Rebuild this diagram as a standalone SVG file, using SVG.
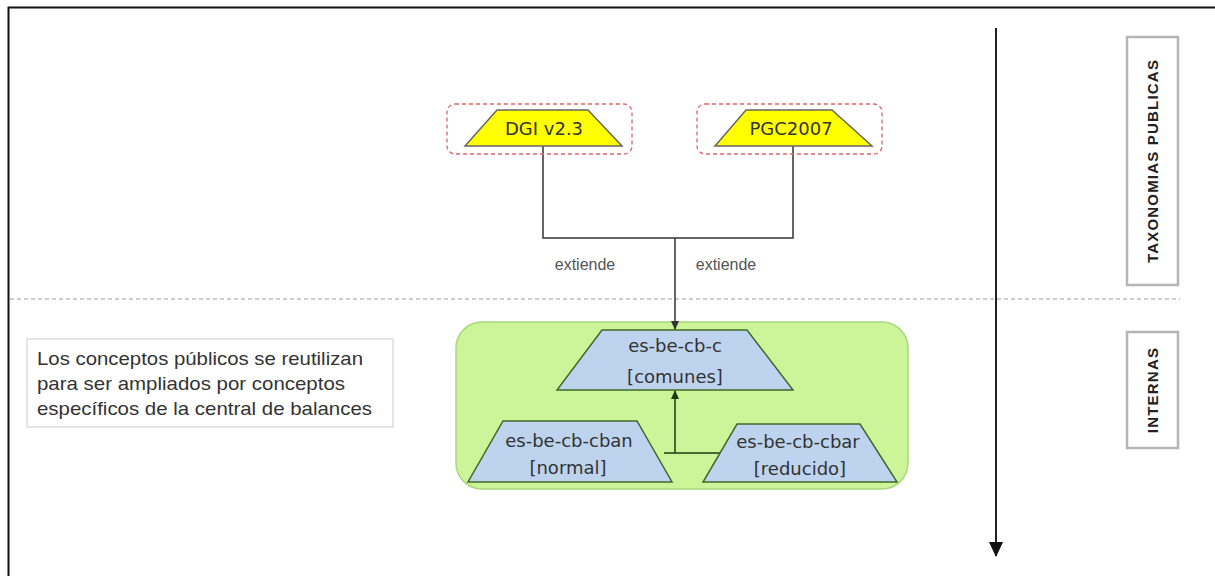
<svg xmlns="http://www.w3.org/2000/svg" width="1215" height="576" viewBox="0 0 1215 576">
<style>
.t{font-family:"DejaVu Sans",Verdana,sans-serif;font-size:18px;fill:#333;text-anchor:middle}
.ext{font-family:"Liberation Sans",Arial,sans-serif;font-size:16px;fill:#555;text-anchor:middle}
.note{font-family:"Liberation Sans",Arial,sans-serif;font-size:19px;fill:#333}
.lbl{font-family:"Liberation Sans",Arial,sans-serif;font-size:15px;font-weight:bold;fill:#222;text-anchor:middle;letter-spacing:1.2px}
.yel{fill:#ffff00;stroke:#666;stroke-width:1.5}
.blu{fill:#bdd3ee;stroke:#3d6a2a;stroke-width:1.5}
.dash{fill:none;stroke:#d66;stroke-width:1.3;stroke-dasharray:4,3}
.lbox{fill:#fff;stroke:#b5b5b5;stroke-width:2.5}
</style>
<defs>
<marker id="ah" markerWidth="10" markerHeight="10" refX="8" refY="5" orient="auto" markerUnits="userSpaceOnUse"><path d="M0,1 L9,5 L0,9 z" fill="#333"/></marker>
<marker id="ahg" markerWidth="10" markerHeight="10" refX="8" refY="5" orient="auto" markerUnits="userSpaceOnUse"><path d="M0,1 L9,5 L0,9 z" fill="#1e3a10"/></marker>
<marker id="big" markerWidth="18" markerHeight="18" refX="14" refY="8" orient="auto" markerUnits="userSpaceOnUse"><path d="M0,1 L15,8 L0,15 z" fill="#111"/></marker>
</defs>
<rect width="1215" height="576" fill="#fff"/>
<path d="M8.5,576 V7.5 H1215" fill="none" stroke="#111" stroke-width="2"/>
<line x1="10" y1="299" x2="1180" y2="299" stroke="#ccc" stroke-width="2" stroke-dasharray="4,3"/>
<line x1="996" y1="28" x2="996" y2="556" stroke="#222" stroke-width="2" marker-end="url(#big)"/>

<g id="label-publicas">
<rect class="lbox" x="1127" y="37" width="51" height="248"/>
<text class="lbl" transform="translate(1158,161) rotate(-90)">TAXONOMIAS PUBLICAS</text>
</g>
<g id="label-internas">
<rect class="lbox" x="1127" y="332" width="51" height="116"/>
<text class="lbl" transform="translate(1158,390) rotate(-90)">INTERNAS</text>
</g>

<g id="note">
<rect x="27" y="339" width="366" height="88" fill="#fff" stroke="#ddd" stroke-width="1.5"/>
<text class="note" x="37" y="365" textLength="326" lengthAdjust="spacingAndGlyphs">Los conceptos públicos se reutilizan</text>
<text class="note" x="37" y="390" textLength="308" lengthAdjust="spacingAndGlyphs">para ser ampliados por conceptos</text>
<text class="note" x="37" y="415" textLength="335" lengthAdjust="spacingAndGlyphs">específicos de la central de balances</text>
</g>

<g id="internas-group">
<rect x="456" y="322" width="452" height="167" rx="26" fill="#ccf59a" stroke="#a8d87a" stroke-width="1.5"/>
</g>

<g id="connectors">
<path d="M543,146 V238 H793 V146" fill="none" stroke="#333" stroke-width="1.5"/>
<line x1="675" y1="238" x2="675" y2="329" stroke="#333" stroke-width="1.5" marker-end="url(#ah)"/>
<text class="ext" x="585" y="270">extiende</text>
<text class="ext" x="726" y="270">extiende</text>
<path d="M664,453 H727" fill="none" stroke="#1e3a10" stroke-width="1.5"/>
<line x1="675" y1="453" x2="675" y2="391" stroke="#1e3a10" stroke-width="1.5" marker-end="url(#ahg)"/>
</g>

<g id="dgi">
<rect class="dash" x="447" y="104" width="185" height="50" rx="8"/>
<polygon class="yel" points="497,110 588,110 622,146 465,146"/>
<text class="t" x="544" y="135">DGI v2.3</text>
</g>
<g id="pgc">
<rect class="dash" x="697" y="104" width="185" height="50" rx="8"/>
<polygon class="yel" points="746,110 832,110 872,146 715,146"/>
<text class="t" x="791" y="135">PGC2007</text>
</g>

<g id="comunes">
<polygon class="blu" points="602,330 747,330 793,390 557,390"/>
<text class="t" x="675" y="352">es-be-cb-c</text>
<text class="t" x="675" y="383">[comunes]</text>
</g>
<g id="cban">
<polygon class="blu" points="503,421 637,421 672,482 468,482"/>
<text class="t" x="569" y="447">es-be-cb-cban</text>
<text class="t" x="568" y="474">[normal]</text>
</g>
<g id="cbar">
<polygon class="blu" points="737,424 860,424 897,482 703,482"/>
<text class="t" x="798" y="448">es-be-cb-cbar</text>
<text class="t" x="800" y="475">[reducido]</text>
</g>
</svg>
